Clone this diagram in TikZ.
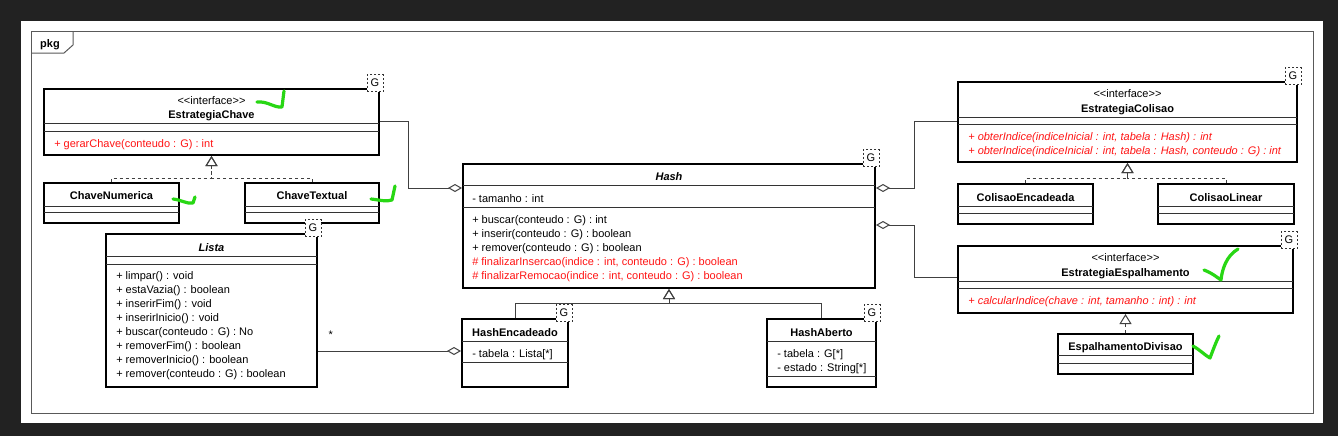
\documentclass[tikz,border=0pt]{standalone}
\usepackage{fontspec}
\setmainfont{Liberation Sans}
\usetikzlibrary{arrows.meta,calc,fit}
\definecolor{umlred}{RGB}{255,20,20}
\definecolor{checkgreen}{RGB}{40,215,20}
\definecolor{backdrop}{RGB}{34,34,34}
\tikzset{
  txt/.style={font=\fontsize{8.25}{10.5}\selectfont, inner sep=0pt, anchor=base},
  classname/.style={txt, font=\fontsize{8.25}{10.5}\selectfont\bfseries},
  member/.style={txt, anchor=base west, align=left},
  classbox/.style={draw=black, fill=white, line width=1.5pt, inner sep=0pt},
  compartment/.style={draw=black!80, line width=0.6pt},
  gbox/.style={draw=black!80, dash pattern=on 1.5pt off 1.5pt, line width=0.6pt, fill=white,
    minimum width=12pt, minimum height=12.75pt, inner sep=0pt, font=\fontsize{8.25}{10.5}\selectfont},
  connector/.style={draw=black!75, line width=0.75pt},
  generalize/.style={connector, -{Triangle[open, length=7.5pt, width=9pt]}},
  realize/.style={generalize, dash pattern=on 2.25pt off 2.25pt},
  aggregate/.style={connector, {Diamond[open, length=10.5pt, width=6pt]}-},
  greencheck/.style={draw=checkgreen, line width=2.4pt, line cap=round, line join=round}
}
\begin{document}
\begin{tikzpicture}[x=0.75pt, y=-0.75pt]
    \useasboundingbox (0,0) rectangle (1338,436);
    \fill[backdrop] (0,0) rectangle (1338,436);
    \fill[white] (21,21) rectangle (1323,423);
    % package frame
    \draw[black!65, line width=0.75pt] (31,31) rectangle (1313,413);
    \draw[black!65, line width=0.75pt] (31,53) -- (64,53) -- (73,45) -- (73,31);
    \node[classname] (pkgLabel) at (50,47) {pkg};

    % EstrategiaChave
    \node[classbox, fit={(44,89) (379,155)}] (chave) {};
    \draw[compartment] (44,123) -- (379,123) (44,131) -- (379,131);
    \node[txt] (chaveStereo) at (211.5,104) {<{}<interface>{}>};
    \node[classname] (chaveName) at (211.5,118) {EstrategiaChave};
    \node[member, umlred] (chaveOps) at (54,147) {+ gerarChave(conteudo : G) : int};
    \node[gbox] (chaveG) at ($(chave.north east)+(-5,-5)$) {G};

    \node[classbox, fit={(44,183) (179,223)}] (numerica) {};
    \draw[compartment] (44,206) -- (179,206) (44,212) -- (179,212);
    \node[classname] (numericaName) at (111.5,199) {ChaveNumerica};

    \node[classbox, fit={(245,183) (379,223)}] (textual) {};
    \draw[compartment] (245,206) -- (379,206) (245,212) -- (379,212);
    \node[classname] (textualName) at (312,199) {ChaveTextual};

    \draw[realize] (numerica.north) -- ++(0,-4) -| (chave.south);
    \draw[realize] (textual.north) -- ++(0,-4) -| (chave.south);

    % Lista (multi-line nodes sit on their last baseline)
    \node[classbox, fit={(106,234) (317,387)}] (lista) {};
    \draw[compartment] (106,256) -- (317,256) (106,264) -- (317,264);
    \node[classname, font=\fontsize{8.25}{10.5}\selectfont\bfseries\itshape] (listaName) at (211.5,251) {Lista};
    \node[member] (listaOps) at (116,377) {+ limpar() : void\\+ estaVazia() : boolean\\+ inserirFim() : void\\+ inserirInicio() : void\\+ buscar(conteudo : G) : No\\+ removerFim() : boolean\\+ removerInicio() : boolean\\+ remover(conteudo : G) : boolean};
    \node[gbox] (listaG) at ($(lista.north east)+(-5,-5)$) {G};

    % Hash
    \node[classbox, fit={(463,164) (875,288)}] (hash) {};
    \draw[compartment] (463,185) -- (875,185) (463,207) -- (875,207);
    \node[classname, font=\fontsize{8.25}{10.5}\selectfont\bfseries\itshape] (hashName) at (669,180) {Hash};
    \node[member] (hashAttr) at (472,202) {- tamanho : int};
    \node[member] (hashOps) at (472,279) {+ buscar(conteudo : G) : int\\+ inserir(conteudo : G) : boolean\\+ remover(conteudo : G) : boolean\\{\color{umlred}\# finalizarInsercao(indice : int, conteudo : G) : boolean}\\{\color{umlred}\# finalizarRemocao(indice : int, conteudo : G) : boolean}};
    \node[gbox] (hashG) at ($(hash.north east)+(-5,-5)$) {G};

    \node[classbox, fit={(462,319) (568,387)}] (hashEnc) {};
    \draw[compartment] (462,341) -- (568,341) (462,362) -- (568,362);
    \node[classname] (hashEncName) at (515,336) {HashEncadeado};
    \node[member] (hashEncAttr) at (472,357) {- tabela : Lista[*]};
    \node[gbox] (hashEncG) at ($(hashEnc.north east)+(-5,-5)$) {G};

    \node[classbox, fit={(767,319) (876,387)}] (hashAb) {};
    \draw[compartment] (767,341) -- (876,341) (767,376) -- (876,376);
    \node[classname] (hashAbName) at (821.5,336) {HashAberto};
    \node[member] (hashAbAttr) at (777,371) {- tabela : G[*]\\- estado : String[*]};
    \node[gbox] (hashAbG) at ($(hashAb.north east)+(-5,-5)$) {G};

    \draw[generalize] (hashEnc.north) -- ++(0,-15) -| (hash.south);
    \draw[generalize] (hashAb.north) -- ++(0,-15) -| (hash.south);

    % EstrategiaColisao
    \node[classbox, fit={(958,82) (1297,162)}] (colisao) {};
    \draw[compartment] (958,117) -- (1297,117) (958,124) -- (1297,124);
    \node[txt] (colisaoStereo) at (1127.5,97) {<{}<interface>{}>};
    \node[classname] (colisaoName) at (1127.5,112) {EstrategiaColisao};
    \node[member, umlred, font=\fontsize{8.25}{10.5}\selectfont\itshape] (colisaoOps) at (968,154) {+ obterIndice(indiceInicial : int, tabela : Hash) : int\\+ obterIndice(indiceInicial : int, tabela : Hash, conteudo : G) : int};
    \node[gbox] (colisaoG) at ($(colisao.north east)+(-5,-5)$) {G};

    \node[classbox, fit={(958,184) (1093,224)}] (colEnc) {};
    \draw[compartment] (958,206) -- (1093,206) (958,213) -- (1093,213);
    \node[classname] (colEncName) at (1025.5,201) {ColisaoEncadeada};

    \node[classbox, fit={(1158,184) (1294,224)}] (colLin) {};
    \draw[compartment] (1158,206) -- (1294,206) (1158,213) -- (1294,213);
    \node[classname] (colLinName) at (1226,201) {ColisaoLinear};

    \draw[realize] (colEnc.north) -- ++(0,-5) -| (colisao.south);
    \draw[realize] (colLin.north) -- ++(0,-5) -| (colisao.south);

    % EstrategiaEspalhamento
    \node[classbox, fit={(958,246) (1293,313)}] (espalha) {};
    \draw[compartment] (958,281) -- (1293,281) (958,288) -- (1293,288);
    \node[txt] (espalhaStereo) at (1125.5,261) {<{}<interface>{}>};
    \node[classname] (espalhaName) at (1125.5,276) {EstrategiaEspalhamento};
    \node[member, umlred, font=\fontsize{8.25}{10.5}\selectfont\itshape] (espalhaOps) at (968,304) {+ calcularIndice(chave : int, tamanho : int) : int};
    \node[gbox] (espalhaG) at ($(espalha.north east)+(-5,-5)$) {G};

    \node[classbox, fit={(1058,334) (1193,374)}] (divisao) {};
    \draw[compartment] (1058,355) -- (1193,355) (1058,363) -- (1193,363);
    \node[classname] (divisaoName) at (1125.5,350) {EspalhamentoDivisao};

    \draw[realize] (divisao.north) -- (espalha.south);

    % aggregations
    \draw[connector, -{Diamond[open, length=10.5pt, width=6pt]}] ($(chave.north east)+(0,33)$) -- ++(28,0) |- ($(hash.north west)+(0,25)$);
    \draw[aggregate] ($(hash.north east)+(0,25)$) -- ++(38,0) |- ($(colisao.north west)+(0,40)$);
    \draw[aggregate] ($(hash.north east)+(0,62)$) -- ++(38,0) |- ($(espalha.north west)+(0,32)$);
    \draw[connector, -{Diamond[open, length=10.5pt, width=6pt]}] ($(lista.north east)+(0,118)$) -- ($(hashEnc.north west)+(0,33)$)
        node[txt, pos=0.09, yshift=9.75pt] (listaMult) {*};

    % checks
    \draw[greencheck] (257,102) .. controls (268,101) and (274,108) .. (282,107) -- (284,91);
    \draw[greencheck] (173,199) .. controls (182,200) and (186,204) .. (193,203) -- (195,197);
    \draw[greencheck] (371,199) .. controls (380,200) and (386,202) .. (392,200) -- (395,186);
    \draw[greencheck] (1204,270) .. controls (1212,273) and (1218,278) .. (1221,280) .. controls (1222,270) and (1226,256) .. (1238,249);
    \draw[greencheck] (1193,346) .. controls (1200,350) and (1206,356) .. (1210,358) .. controls (1213,350) and (1216,342) .. (1219,336);
\end{tikzpicture}
\end{document}
